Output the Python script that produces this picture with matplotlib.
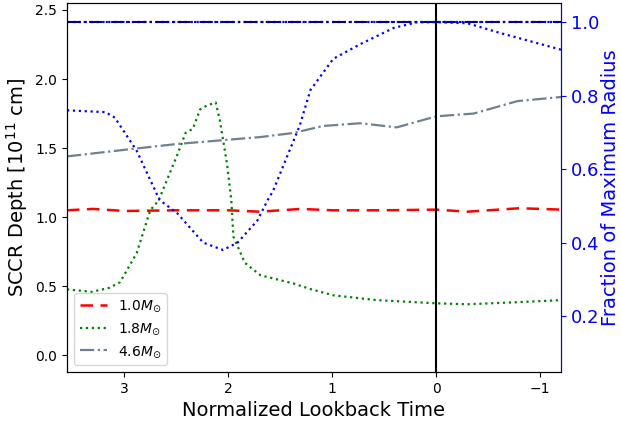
import matplotlib
matplotlib.use("Agg")
import matplotlib.pyplot as plt

# SCCR depth [1e11 cm] vs normalized lookback time
t_10 = [3.55, 3.3, 3.0, 2.5, 2.0, 1.7, 1.3, 1.0, 0.5, 0.0, -0.3, -0.8, -1.2]
d_10 = [1.05, 1.06, 1.045, 1.05, 1.05, 1.04, 1.06, 1.05, 1.05, 1.055, 1.04, 1.065, 1.055]

t_18 = [3.55, 3.31, 3.14, 3.04, 2.88, 2.75, 2.67, 2.49, 2.41, 2.34, 2.27, 2.20, 2.12,
        2.08, 2.01, 1.97, 1.95, 1.84, 1.69, 1.37, 1.21, 0.99, 0.57, 0.0, -0.3, -0.78, -1.2]
d_18 = [0.478, 0.46, 0.49, 0.53, 0.74, 1.05, 1.12, 1.45, 1.61, 1.64, 1.78, 1.81, 1.83,
        1.70, 1.38, 1.12, 0.86, 0.67, 0.58, 0.52, 0.48, 0.435, 0.40, 0.377, 0.37, 0.385, 0.40]

t_46 = [3.55, 2.97, 2.49, 2.01, 1.69, 1.37, 1.09, 0.73, 0.38, 0.0, -0.36, -0.78, -1.2]
d_46 = [1.44, 1.49, 1.53, 1.56, 1.58, 1.61, 1.66, 1.68, 1.65, 1.73, 1.75, 1.84, 1.87]

# fraction of maximum radius (right axis)
t_r18 = [3.55, 3.18, 3.09, 2.88, 2.66, 2.49, 2.24, 2.05, 1.91, 1.72, 1.62, 1.57,
         1.31, 1.21, 0.99, 0.73, 0.41, 0.18, 0.0, -0.3, -0.62, -1.2]
r_18 = [0.76, 0.755, 0.74, 0.65, 0.516, 0.48, 0.40, 0.38, 0.40, 0.46, 0.516, 0.54,
        0.72, 0.815, 0.90, 0.94, 0.984, 1.0, 1.0, 0.997, 0.97, 0.925]
t_r = [3.55, -1.2]
r_other = [1.0, 1.0]

fig = plt.figure(figsize=(6.21, 4.25), dpi=100)
ax = fig.add_axes([67 / 621, 53 / 425, 494 / 621, 369 / 425])
ax2 = ax.twinx()

ax.plot(t_10, d_10, color="red", linestyle="--", dashes=(5, 3), linewidth=1.8, label=r"1.0$M_{\odot}$")
ax.plot(t_18, d_18, color="green", linestyle=":", linewidth=1.6, label=r"1.8$M_{\odot}$")
ax.plot(t_46, d_46, color="slategray", linestyle="-.", linewidth=1.6, label=r"4.6$M_{\odot}$")
ax.axvline(0, color="black", linewidth=1.5)

ax2.plot(t_r, r_other, color="blue", linestyle=":", linewidth=1.6)
ax2.plot(t_r, r_other, color="darkblue", linestyle="-.", linewidth=1.5)
ax2.plot(t_r18, r_18, color="blue", linestyle=":", linewidth=1.6)

ax.set_xlim(3.55, -1.2)
ax.set_ylim(-0.12, 2.55)
ax2.set_ylim(0.048, 1.052)
ax.set_xticks([3, 2, 1, 0, -1])
ax.set_yticks([0.0, 0.5, 1.0, 1.5, 2.0, 2.5])
ax2.set_yticks([0.2, 0.4, 0.6, 0.8, 1.0])

ax.set_xlabel("Normalized Lookback Time", fontsize=14)
ax.set_ylabel(r"SCCR Depth [$10^{11}$ cm]", fontsize=14)
ax.tick_params(labelsize=10)
ax2.set_ylabel("Fraction of Maximum Radius", fontsize=14, color="blue", labelpad=1)
ax2.tick_params(axis="y", colors="blue", labelsize=13)
ax2.spines["right"].set_color("blue")

ax.legend(loc="lower left", fontsize=10)

fig.savefig("out.png", dpi=100)
